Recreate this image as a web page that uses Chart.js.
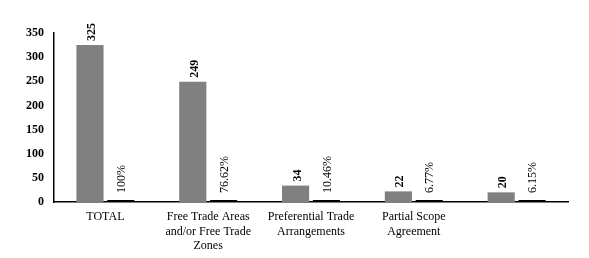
<!DOCTYPE html>
<html>
<head>
<meta charset="utf-8">
<script src="https://cdn.jsdelivr.net/npm/chart.js@4"></script>
<style>
    html, body { margin: 0; padding: 0; background: #fff; }
    canvas { display: block; }
</style>
</head>
<body>
<canvas id="agreementsChart" width="589" height="258"></canvas>
<script>
const categories = [
    'TOTAL',
    ['Free Trade Areas', 'and/or Free Trade', 'Zones'],
    ['Preferential Trade', 'Arrangements'],
    ['Partial Scope', 'Agreement'],
    ''
];
const counts = [325, 249, 34, 22, 20];
const shares = [1, 0.7662, 0.1046, 0.0677, 0.0615];
const yTicks = [0, 50, 100, 150, 200, 250, 300, 350];

const serif = '"Liberation Serif", "DejaVu Serif", serif';

// rotated value labels above each bar
const barLabels = {
    id: 'barLabels',
    afterDatasetsDraw(chart) {
        const ctx = chart.ctx;
        chart.data.datasets.forEach((ds, i) => {
            const meta = chart.getDatasetMeta(i);
            meta.data.forEach((bar, j) => {
                const v = ds.data[j];
                const text = i === 0 ? String(v) : Number((v * 100).toFixed(2)) + '%';
                ctx.save();
                ctx.translate(bar.x + (i === 0 ? 2 : 1), bar.y - (i === 0 ? 4 : 7));
                ctx.rotate(-Math.PI / 2);
                ctx.font = (i === 0 ? 'bold ' : '') + '12px ' + serif;
                ctx.fillStyle = '#000';
                ctx.textAlign = 'left';
                ctx.textBaseline = 'middle';
                ctx.fillText(text, 0, 0);
                ctx.restore();
            });
        });
    }
};

new Chart(document.getElementById('agreementsChart'), {
    type: 'bar',
    data: {
        labels: categories,
        datasets: [{
            label: 'Number',
            data: counts,
            backgroundColor: '#808080',
            categoryPercentage: 0.6,
            barPercentage: 0.88
        }, {
            label: 'Share',
            data: shares,
            backgroundColor: '#000',
            minBarLength: 2,
            categoryPercentage: 0.6,
            barPercentage: 0.88
        }]
    },
    options: {
        responsive: false,
        animation: false,
        layout: { padding: { top: 33, right: 21, left: 0, bottom: 0 } },
        plugins: {
            legend: { display: false },
            tooltip: { enabled: false }
        },
        scales: {
            x: {
                grid: { display: false, drawTicks: false },
                border: { color: '#000', width: 1.5 },
                ticks: {
                    color: '#000',
                    font: { family: serif, size: 12 },
                    padding: 8,
                    maxRotation: 0,
                    autoSkip: false
                },
                afterFit(scale) { scale.height = 56; }
            },
            y: {
                min: 0,
                max: 350,
                afterBuildTicks(scale) { scale.ticks = yTicks.map(v => ({ value: v })); },
                grid: { display: false, drawTicks: false },
                border: { color: '#000', width: 1.5 },
                ticks: {
                    color: '#000',
                    font: { family: serif, size: 12, weight: 'bold' },
                    padding: 10
                },
                afterFit(scale) { scale.width = 54; }
            }
        }
    },
    plugins: [barLabels]
});
</script>
</body>
</html>
